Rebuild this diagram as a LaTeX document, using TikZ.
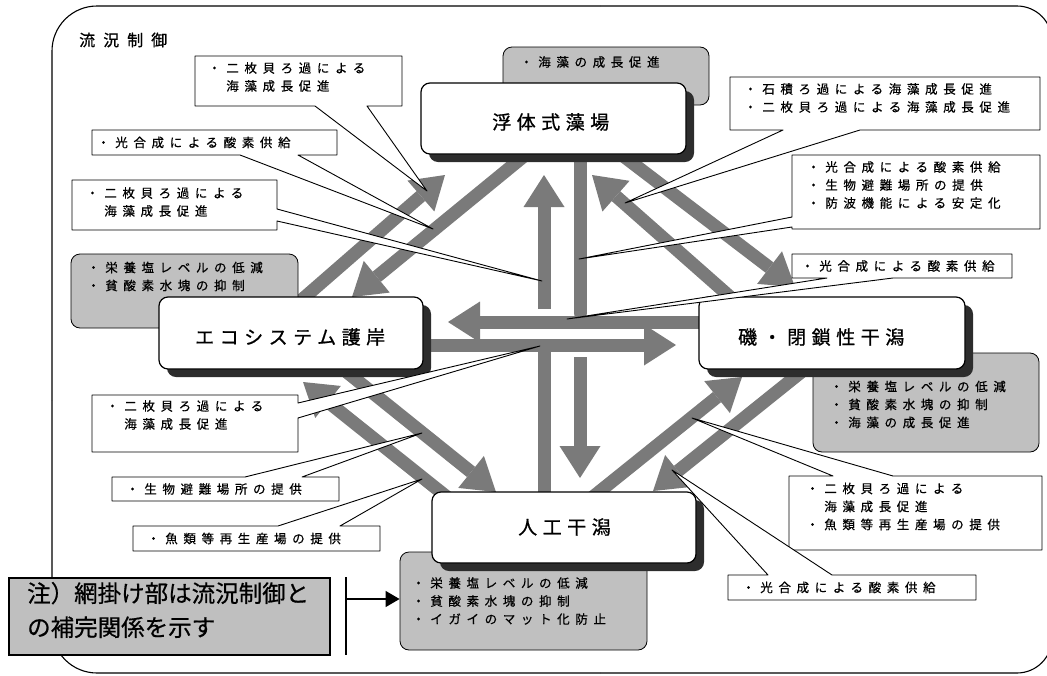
\documentclass[tikz,border=0pt]{standalone}
\usepackage{fontspec}
\newfontfamily\jps[LetterSpace=45,FakeBold=0.6]{Noto Sans CJK JP}
\newfontfamily\jpm[LetterSpace=29,FakeBold=0.8]{Noto Sans CJK JP}
\newfontfamily\jpt[LetterSpace=50,FakeBold=0.6]{Noto Sans CJK JP}
\newfontfamily\jpn[FakeBold=0.6]{Noto Sans CJK JP}
\usetikzlibrary{arrows.meta,shadows}
\definecolor{flowgray}{RGB}{122,122,122}
\definecolor{grayfill}{RGB}{192,192,192}
\definecolor{notegray}{RGB}{191,191,191}
\definecolor{shadowc}{RGB}{45,45,45}
\begin{document}
\begin{tikzpicture}[x=1pt,y=-1pt,
  frame/.style={line width=1.1pt, draw=black},
  flow/.style={line width=13pt, draw=flowgray, -{Triangle[width=41pt,length=32pt,line width=0pt]}},
  flowround/.style={line width=13pt, draw=flowgray, line cap=round},
  graybox/.style={draw=black, line width=0.8pt, fill=grayfill, rounded corners=9pt, inner sep=0pt},
  mainbox/.style={draw=black, line width=1.2pt, fill=white, rounded corners=9pt, inner sep=0pt,
    drop shadow={shadow xshift=8pt, shadow yshift=-8pt, opacity=1, fill=shadowc}},
  cbox/.style={inner sep=0pt, outer sep=0pt},
  callout/.style={draw=black, line width=0.9pt, fill=white, line join=round},
  txt/.style={inner sep=0pt, anchor=west, align=left, font=\jps\fontsize{12.5}{18}\selectfont},
  maintxt/.style={inner sep=0pt, anchor=west, font=\jpm\fontsize{19}{24}\selectfont},
  notebox/.style={draw=black, line width=1.6pt, fill=notegray, inner sep=0pt},
  notetxt/.style={inner sep=0pt, anchor=west, align=left, font=\jpn\fontsize{23.5}{34}\selectfont}
]
\useasboundingbox (0,0) rectangle (1047,675);

% outer frame
\draw[frame, rounded corners=45pt] (52,400) -- (52,6) -- (600,6);
\draw[frame, rounded corners=35pt] (600,6) -- (1052,6) -- (1052,400);
\draw[frame, rounded corners=35pt] (1052,400) -- (1052,673) -- (600,673);
\draw[frame, rounded corners=45pt] (600,673) -- (52,673) -- (52,400);
\node[inner sep=0pt, anchor=west, font=\jpt\fontsize{16}{18}\selectfont] (title) at (79,40) {流況制御};

% flow arrows
\coordinate (ulneS) at (290,310); \coordinate (ulneT) at (445,175);
\coordinate (ulswS) at (529,152); \coordinate (ulswT) at (352,297);
\coordinate (urnwS) at (745,310); \coordinate (urnwT) at (592,175);
\coordinate (urseS) at (618,152); \coordinate (urseT) at (795,287);
\coordinate (llnwS) at (452,501); \coordinate (llnwT) at (303,382);
\coordinate (llseS) at (338,365); \coordinate (llseT) at (496,492);
\coordinate (lrneS) at (589,500); \coordinate (lrneT) at (742,377);
\coordinate (lrswS) at (810,365); \coordinate (lrswT) at (653,491);
\coordinate (upS) at (544,309); \coordinate (upT) at (544,175);
\coordinate (lcS) at (544,353); \coordinate (lcE) at (544,500);
\coordinate (rcS) at (580,150); \coordinate (rcE) at (580,313);
\coordinate (dnS) at (580,357); \coordinate (dnT) at (580,478);
\coordinate (ltS) at (710,322); \coordinate (ltT) at (448,322);
\coordinate (rtS) at (420,345); \coordinate (rtT) at (676,345);

\draw[flow] (ulneS) -- (ulneT);
\draw[flow] (ulswS) -- (ulswT);
\draw[flow] (urnwS) -- (urnwT);
\draw[flow] (urseS) -- (urseT);
\draw[flow] (llnwS) -- (llnwT);
\draw[flow] (llseS) -- (llseT);
\draw[flow] (lrneS) -- (lrneT);
\draw[flow] (lrswS) -- (lrswT);
\draw[flow] (upS) -- (upT);
\draw[flowround] (lcS) -- (lcE);
\draw[flowround] (rcS) -- (rcE);
\draw[flow] (dnS) -- (dnT);
\draw[flow] (ltS) -- (ltT);
\draw[flow] (rtS) -- (rtT);

% gray boxes
\node[graybox, minimum width=206pt, minimum height=58pt] (gtop) at (606,76) {};
\node[graybox, minimum width=227pt, minimum height=74pt] (gleft) at (184.5,291) {};
\node[graybox, minimum width=226pt, minimum height=99pt] (gright) at (926,402.5) {};
\node[graybox, minimum width=247pt, minimum height=98pt] (gbot) at (523.5,601) {};
\node[txt] (gtopt) at (520,62) {・海藻の成長促進};
\node[txt] (gleftt) at (87,276.5) {・栄養塩レベルの低減\\・貧酸素水塊の抑制};
\node[txt] (grightt) at (830,404.5) {・栄養塩レベルの低減\\・貧酸素水塊の抑制\\・海藻の成長促進};
\node[txt] (gbott) at (412,601) {・栄養塩レベルの低減\\・貧酸素水塊の抑制\\・イガイのマット化防止};

% main boxes
\node[mainbox, minimum width=265pt, minimum height=71pt] (float) at (553.5,118.5) {};
\node[mainbox, minimum width=264pt, minimum height=72pt] (eco) at (291,333) {};
\node[mainbox, minimum width=266pt, minimum height=72pt] (iso) at (832,333) {};
\node[mainbox, minimum width=264pt, minimum height=71pt] (jinko) at (564,527.5) {};
\node[maintxt] (floatt) at (492,122) {浮体式藻場};
\node[maintxt] (ecot) at (195,337) {エコシステム護岸};
\node[maintxt] (isot) at (738,337) {磯・閉鎖性干潟};
\node[maintxt] (jinkot) at (518,527) {人工干潟};

% callouts
\node[cbox, minimum width=207pt, minimum height=50pt] (cA) at (298.5,81) {};
\coordinate (pA) at (427,191);
\filldraw[callout] (cA.north west) -- (cA.north east) -- (cA.south east) -- (367,106) -- (pA) -- (315,106) -- (cA.south west) -- cycle;
\node[txt] (tA) at (208,77) {・二枚貝ろ過による\\　海藻成長促進};

\node[cbox, minimum width=245pt, minimum height=25pt] (cB) at (214.5,142.5) {};
\coordinate (pB) at (433,229);
\filldraw[callout] (cB.north west) -- (cB.north east) -- (cB.south east) -- (298,155) -- (pB) -- (240,155) -- (cB.south west) -- cycle;
\node[txt] (tB) at (97,142.5) {・光合成による酸素供給};

\node[cbox, minimum width=205pt, minimum height=50pt] (cC) at (174.5,205) {};
\coordinate (pC) at (542,281);
\filldraw[callout] (cC.north west) -- (cC.north east) -- (277,209) -- (pC) -- (277,221) -- (cC.south east) -- (cC.south west) -- cycle;
\node[txt] (tC) at (86,202) {・二枚貝ろ過による\\　海藻成長促進};

\node[cbox, minimum width=206pt, minimum height=57pt] (cD) at (195,423.5) {};
\coordinate (pD) at (540,346);
\filldraw[callout] (cD.north west) -- (cD.north east) -- (298,403) -- (pD) -- (298,418) -- (cD.south east) -- (cD.south west) -- cycle;
\node[txt] (tD) at (106,415) {・二枚貝ろ過による\\　海藻成長促進};

\node[cbox, minimum width=227pt, minimum height=24pt] (cE) at (225.5,489) {};
\coordinate (pE) at (422,433);
\filldraw[callout] (cE.north west) -- (245,477) -- (pE) -- (302,477) -- (cE.north east) -- (cE.south east) -- (cE.south west) -- cycle;
\node[txt] (tE) at (126,489) {・生物避難場所の提供};

\node[cbox, minimum width=247pt, minimum height=25pt] (cF) at (256.5,538.5) {};
\coordinate (pF) at (422,479);
\filldraw[callout] (cF.north west) -- (278,526) -- (pF) -- (340,526) -- (cF.north east) -- (cF.south east) -- (cF.south west) -- cycle;
\node[txt] (tF) at (147,538.5) {・魚類等再生産場の提供};

\node[cbox, minimum width=310pt, minimum height=53pt] (cG) at (885,103.5) {};
\coordinate (pG) at (625,203);
\filldraw[callout] (cG.north west) -- (cG.north east) -- (cG.south east) -- (860,130) -- (pG) -- (783,130) -- (cG.south west) -- cycle;
\node[txt] (tG) at (744,98) {・石積ろ過による海藻成長促進\\・二枚貝ろ過による海藻成長促進};

\node[cbox, minimum width=248pt, minimum height=74pt] (cH) at (916,192) {};
\coordinate (pH) at (579,259);
\filldraw[callout] (cH.north west) -- (cH.north east) -- (cH.south east) -- (cH.south west) -- (792,227) -- (pH) -- (792,217) -- cycle;
\node[txt] (tH) at (807,185) {・光合成による酸素供給\\・生物避難場所の提供\\・防波機能による安定化};

\node[cbox, minimum width=220pt, minimum height=24pt] (cI) at (902,266) {};
\coordinate (pI) at (567,319);
\filldraw[callout] (cI.north west) -- (cI.north east) -- (cI.south east) -- (893,278) -- (pI) -- (827,278) -- (cI.south west) -- cycle;
\node[txt] (tI) at (801,266) {・光合成による酸素供給};

\node[cbox, minimum width=253pt, minimum height=74pt] (cJ) at (915.5,513) {};
\coordinate (pJ) at (692,418);
\filldraw[callout] (cJ.north west) -- (833,476) -- (pJ) -- (893,476) -- (cJ.north east) -- (cJ.south east) -- (cJ.south west) -- cycle;
\node[txt] (tJ) at (806,506.5) {・二枚貝ろ過による\\　海藻成長促進\\・魚類等再生産場の提供};

\node[cbox, minimum width=248pt, minimum height=25pt] (cK) at (852,587.5) {};
\coordinate (pK) at (672,470);
\filldraw[callout] (cK.north west) -- (768,575) -- (pK) -- (832,575) -- (cK.north east) -- (cK.south east) -- (cK.south west) -- cycle;
\node[txt] (tK) at (742,587.5) {・光合成による酸素供給};

% note
\node[notebox, minimum width=321pt, minimum height=77pt] (note) at (169.5,616.5) {};
\node[notetxt] (notet) at (27,610) {注）網掛け部は流況制御と\\の補完関係を示す};
\coordinate (barT) at (346,577);
\coordinate (barB) at (346,655);
\coordinate (barM) at (346,599);
\draw[line width=1.2pt] (barT) -- (barB);
\draw[line width=1.2pt, -{Triangle[width=16pt,length=14pt]}] (barM) -- (gbot.west |- barM);
\end{tikzpicture}
\end{document}
